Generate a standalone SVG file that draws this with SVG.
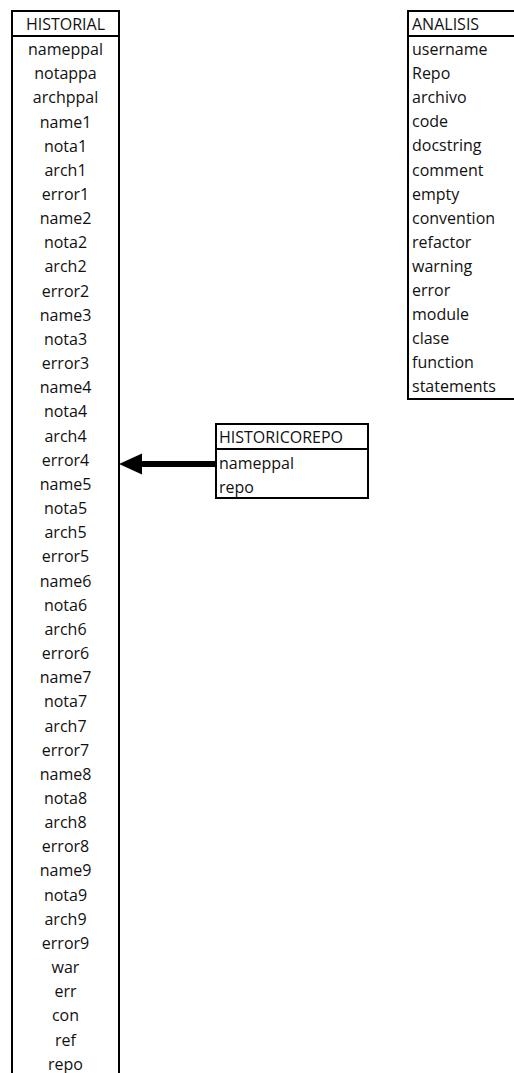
<svg xmlns="http://www.w3.org/2000/svg" width="514" height="1073" viewBox="0 0 514 1073">
<style>
.box{fill:#fff;stroke:#000;stroke-width:2}
.sep{stroke:#000;stroke-width:2}
text{font-family:"Open Sans","Liberation Sans",sans-serif;font-size:16px;fill:#111}
.c{text-anchor:middle}
.conn{stroke:#000;stroke-width:6}
.head{fill:#000}
</style>
<rect width="514" height="1073" fill="#fff"/>
<g id="historial">
<rect class="box" x="12" y="11" width="107" height="1080"/>
<line class="sep" x1="12" y1="36" x2="119" y2="36"/>
<text class="c" x="65.5" y="29.5">HISTORIAL</text>
<text class="c" x="65.5" y="55">nameppal</text>
<text class="c" x="65.5" y="79.2">notappa</text>
<text class="c" x="65.5" y="103.3">archppal</text>
<text class="c" x="65.5" y="127.5">name1</text>
<text class="c" x="65.5" y="151.6">nota1</text>
<text class="c" x="65.5" y="175.8">arch1</text>
<text class="c" x="65.5" y="200">error1</text>
<text class="c" x="65.5" y="224.1">name2</text>
<text class="c" x="65.5" y="248.3">nota2</text>
<text class="c" x="65.5" y="272.4">arch2</text>
<text class="c" x="65.5" y="296.6">error2</text>
<text class="c" x="65.5" y="320.8">name3</text>
<text class="c" x="65.5" y="344.9">nota3</text>
<text class="c" x="65.5" y="369.1">error3</text>
<text class="c" x="65.5" y="393.2">name4</text>
<text class="c" x="65.5" y="417.4">nota4</text>
<text class="c" x="65.5" y="441.6">arch4</text>
<text class="c" x="65.5" y="465.7">error4</text>
<text class="c" x="65.5" y="489.9">name5</text>
<text class="c" x="65.5" y="514">nota5</text>
<text class="c" x="65.5" y="538.2">arch5</text>
<text class="c" x="65.5" y="562.4">error5</text>
<text class="c" x="65.5" y="586.5">name6</text>
<text class="c" x="65.5" y="610.7">nota6</text>
<text class="c" x="65.5" y="634.8">arch6</text>
<text class="c" x="65.5" y="659">error6</text>
<text class="c" x="65.5" y="683.2">name7</text>
<text class="c" x="65.5" y="707.3">nota7</text>
<text class="c" x="65.5" y="731.5">arch7</text>
<text class="c" x="65.5" y="755.6">error7</text>
<text class="c" x="65.5" y="779.8">name8</text>
<text class="c" x="65.5" y="804">nota8</text>
<text class="c" x="65.5" y="828.1">arch8</text>
<text class="c" x="65.5" y="852.3">error8</text>
<text class="c" x="65.5" y="876.4">name9</text>
<text class="c" x="65.5" y="900.6">nota9</text>
<text class="c" x="65.5" y="924.8">arch9</text>
<text class="c" x="65.5" y="948.9">error9</text>
<text class="c" x="65.5" y="973.1">war</text>
<text class="c" x="65.5" y="997.2">err</text>
<text class="c" x="65.5" y="1021.4">con</text>
<text class="c" x="65.5" y="1045.6">ref</text>
<text class="c" x="65.5" y="1069.7">repo</text>
</g>
<g id="analisis">
<rect class="box" x="408" y="11" width="120" height="388"/>
<line class="sep" x1="408" y1="36" x2="514" y2="36"/>
<text x="412" y="29.5">ANALISIS</text>
<text x="412" y="55">username</text>
<text x="412" y="79.1">Repo</text>
<text x="412" y="103.2">archivo</text>
<text x="412" y="127.3">code</text>
<text x="412" y="151.4">docstring</text>
<text x="412" y="175.5">comment</text>
<text x="412" y="199.6">empty</text>
<text x="412" y="223.7">convention</text>
<text x="412" y="247.8">refactor</text>
<text x="412" y="271.9">warning</text>
<text x="412" y="296">error</text>
<text x="412" y="320.1">module</text>
<text x="412" y="344.2">clase</text>
<text x="412" y="368.3">function</text>
<text x="412" y="392.4">statements</text>
</g>
<g id="historicorepo">
<rect class="box" x="216" y="424" width="152" height="74"/>
<line class="sep" x1="216" y1="449" x2="368" y2="449"/>
<text x="219" y="443">HISTORICOREPO</text>
<text x="219" y="469">nameppal</text>
<text x="219" y="493">repo</text>
</g>
<g id="connectors">
<line class="conn" x1="215" y1="464" x2="140" y2="464"/>
<polygon class="head" points="119,464 142,453.5 142,474.5"/>
</g>
</svg>
